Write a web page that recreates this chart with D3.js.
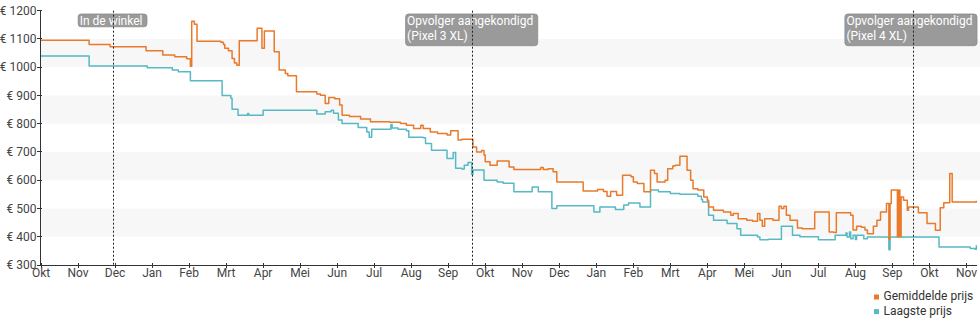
<!DOCTYPE html>
<html>
<head>
<meta charset="utf-8">
<script src="https://cdn.jsdelivr.net/npm/d3@7"></script>
<style>
  html, body { margin: 0; padding: 0; background: #fff; }
  svg { display: block; font-family: Roboto, "Noto Sans", Arial, sans-serif; }
</style>
</head>
<body>
<svg id="chart" width="980" height="325"></svg>
<script>
// Gemiddelde prijs (average price), one entry per price change
const avgPrice = [
  ["2017-10-01",1095],["2017-11-10",1080],["2017-11-27",1072],["2017-12-27",1058],
  ["2018-01-10",1043],["2018-01-20",1037],["2018-01-30",1030],["2018-02-02",1003],
  ["2018-02-03",1163],["2018-02-05",1152],["2018-02-07",1092],["2018-02-25",1088],
  ["2018-02-27",1080],["2018-02-28",1067],["2018-03-03",1058],["2018-03-06",1031],
  ["2018-03-08",1015],["2018-03-10",1007],["2018-03-12",1094],["2018-03-27",1138],
  ["2018-03-31",1067],["2018-04-02",1128],["2018-04-10",1055],["2018-04-14",990],
  ["2018-04-19",978],["2018-04-21",970],["2018-04-28",913],["2018-05-15",905],
  ["2018-05-18",901],["2018-05-22",872],["2018-05-25",893],["2018-05-30",888],
  ["2018-06-03",866],["2018-06-05",830],["2018-06-11",826],["2018-06-20",817],
  ["2018-06-28",807],["2018-07-14",805],["2018-07-23",801],["2018-07-28",795],
  ["2018-08-03",783],["2018-08-09",795],["2018-08-11",783],["2018-08-17",771],
  ["2018-08-23",765],["2018-08-31",760],["2018-09-03",775],["2018-09-09",742],
  ["2018-09-12",745],["2018-09-21",718],["2018-09-24",700],["2018-09-28",705],
  ["2018-09-30",689],["2018-10-01",665],["2018-10-05",653],["2018-10-11",668],
  ["2018-10-21",647],["2018-10-25",638],["2018-11-16",645],["2018-11-18",638],
  ["2018-11-22",641],["2018-11-26",630],["2018-11-29",594],["2018-12-21",562],
  ["2019-01-02",567],["2019-01-07",560],["2019-01-10",543],["2019-01-13",560],
  ["2019-01-18",547],["2019-01-23",618],["2019-01-30",612],["2019-02-01",594],
  ["2019-02-04",588],["2019-02-09",559],["2019-02-14",635],["2019-02-17",624],
  ["2019-02-19",594],["2019-02-25",600],["2019-02-27",641],["2019-03-03",650],
  ["2019-03-05",653],["2019-03-09",685],["2019-03-15",635],["2019-03-18",600],
  ["2019-03-20",570],["2019-03-24",565],["2019-03-29",541],["2019-04-01",529],
  ["2019-04-02",505],["2019-04-06",494],["2019-04-14",488],["2019-04-20",476],
  ["2019-04-22",482],["2019-04-26",464],["2019-05-03",458],["2019-05-08",455],
  ["2019-05-12",482],["2019-05-14",458],["2019-05-16",437],["2019-05-18",464],
  ["2019-05-25",458],["2019-05-30",508],["2019-06-01",500],["2019-06-03",508],
  ["2019-06-05",476],["2019-06-08",458],["2019-06-14",431],["2019-06-18",428],
  ["2019-06-28",488],["2019-07-10",417],["2019-07-14",415],["2019-07-16",485],
  ["2019-07-28",476],["2019-07-30",424],["2019-08-02",437],["2019-08-06",434],
  ["2019-08-09",424],["2019-08-11",411],["2019-08-16",437],["2019-08-19",458],
  ["2019-08-22",488],["2019-08-27",518],["2019-08-29",393],["2019-08-30",518],
  ["2019-08-31",565],["2019-09-05",400],["2019-09-06",565],["2019-09-07",400],
  ["2019-09-08",541],["2019-09-10",529],["2019-09-13",494],["2019-09-14",505],
  ["2019-09-22",485],["2019-09-29",447],["2019-10-06",423],["2019-10-10",503],
  ["2019-10-13",520],["2019-10-18",624],["2019-10-20",523],["2019-11-09",527]
];

// Laagste prijs (lowest price)
const lowPrice = [
  ["2017-10-01",1040],["2017-11-10",1004],["2017-12-28",998],["2018-01-18",990],
  ["2018-01-23",984],["2018-02-02",952],["2018-02-26",900],["2018-03-05",890],
  ["2018-03-06",851],["2018-03-11",830],["2018-03-19",836],["2018-03-20",830],
  ["2018-04-01",848],["2018-05-15",834],["2018-05-22",842],["2018-05-27",848],
  ["2018-05-29",837],["2018-06-02",813],["2018-06-05",801],["2018-06-18",787],
  ["2018-06-25",771],["2018-06-27",752],["2018-06-29",780],["2018-07-15",797],
  ["2018-07-16",785],["2018-07-21",780],["2018-07-28",775],["2018-07-30",752],
  ["2018-08-11",750],["2018-08-13",730],["2018-08-18",706],["2018-08-31",677],
  ["2018-09-05",698],["2018-09-07",642],["2018-09-12",640],["2018-09-14",653],
  ["2018-09-17",663],["2018-09-20",620],["2018-09-21",636],["2018-09-30",600],
  ["2018-10-11",594],["2018-10-16",589],["2018-10-25",559],["2018-11-09",576],
  ["2018-11-14",559],["2018-11-25",500],["2018-11-29",510],["2018-12-30",488],
  ["2019-01-04",505],["2019-01-17",496],["2019-01-24",512],["2019-01-28",519],
  ["2019-02-06",505],["2019-02-14",565],["2019-02-20",559],["2019-03-01",553],
  ["2019-03-09",550],["2019-03-24",543],["2019-03-27",532],["2019-03-28",523],
  ["2019-04-02",476],["2019-04-06",458],["2019-04-17",447],["2019-04-25",428],
  ["2019-04-28",405],["2019-05-12",399],["2019-05-14",389],["2019-05-21",391],
  ["2019-06-01",437],["2019-06-10",405],["2019-06-16",400],["2019-07-01",389],
  ["2019-07-15",405],["2019-07-24",413],["2019-07-25",399],["2019-07-27",417],
  ["2019-07-28",393],["2019-07-30",405],["2019-08-01",390],["2019-08-02",405],
  ["2019-08-08",393],["2019-08-11",399],["2019-08-29",354],["2019-08-30",399],
  ["2019-10-09",364],["2019-11-04",358],["2019-11-08",356],["2019-11-09",370]
];

const yTicks = [300, 400, 500, 600, 700, 800, 900, 1000, 1100, 1200];
const monthNames = ["Jan","Feb","Mrt","Apr","Mei","Jun","Jul","Aug","Sep","Okt","Nov","Dec"];
const seriesNames = ["Gemiddelde prijs", "Laagste prijs"];
const seriesColors = ["#e97a2b", "#56b9c4"];
const events = [
  { date: "2017-11-29", lines: ["In de winkel"] },
  { date: "2018-09-20", lines: ["Opvolger aangekondigd", "(Pixel 3 XL)"] },
  { date: "2019-09-18", lines: ["Opvolger aangekondigd", "(Pixel 4 XL)"] }
];
const periodStart = "2017-10-01";
const periodEnd = "2019-11-09";

const parse = d3.timeParse("%Y-%m-%d");
const start = parse(periodStart), end = parse(periodEnd);

// layout
const plotLeft = 41, plotRight = 977, plotTop = 10.7, plotBottom = 265;
const monthWidth = 37.02;

// every month gets the same width on the time axis
const monthStarts = d3.timeMonth.range(start, d3.timeMonth.offset(end, 2));
const x = d3.scaleTime()
  .domain(monthStarts)
  .range(monthStarts.map((d, i) => plotLeft + i * monthWidth));
const y = d3.scaleLinear().domain([300, 1200]).range([plotBottom, plotTop]);

const svg = d3.select("#chart");
svg.append("rect").attr("width", 980).attr("height", 325).attr("fill", "#fff");

// alternating horizontal bands
const bandStarts = yTicks.filter((v, i) => i < yTicks.length - 1 && i % 2 === 1);
svg.append("g").selectAll("rect").data(bandStarts).join("rect")
  .attr("x", plotLeft)
  .attr("y", d => y(d + 100))
  .attr("width", 980 - plotLeft)
  .attr("height", d => y(d) - y(d + 100))
  .attr("fill", "#f7f7f7");

// price lines
const line = d3.line()
  .x(d => x(parse(d[0])))
  .y(d => y(d[1]))
  .curve(d3.curveStepAfter);

svg.append("path").datum(lowPrice)
  .attr("d", line).attr("fill", "none")
  .attr("stroke", seriesColors[1]).attr("stroke-width", 1.5)
  .attr("stroke-linejoin", "round");
svg.append("path").datum(avgPrice)
  .attr("d", line).attr("fill", "none")
  .attr("stroke", seriesColors[0]).attr("stroke-width", 1.5)
  .attr("stroke-linejoin", "round");

// axes
const axisColor = "#333";
const labelColor = "#444";
const axes = svg.append("g").attr("shape-rendering", "crispEdges");
axes.append("line")
  .attr("x1", plotLeft - 0.5).attr("x2", plotLeft - 0.5)
  .attr("y1", plotTop).attr("y2", plotBottom)
  .attr("stroke", axisColor);
axes.append("line")
  .attr("x1", plotLeft - 0.5).attr("x2", plotRight)
  .attr("y1", plotBottom + 0.5).attr("y2", plotBottom + 0.5)
  .attr("stroke", axisColor);

// y ticks and labels
const yt = svg.append("g").selectAll("g").data(yTicks).join("g")
  .attr("transform", d => `translate(0,${y(d)})`);
yt.append("line").attr("x1", plotLeft - 4).attr("x2", plotLeft + 1)
  .attr("stroke", axisColor).attr("shape-rendering", "crispEdges");
yt.append("text")
  .attr("x", plotLeft - 4.5).attr("dy", "0.35em")
  .attr("text-anchor", "end")
  .attr("font-size", 12).attr("fill", labelColor)
  .text(d => "€ " + d);

// x ticks and labels
const monthTicks = d3.timeMonth.range(start, end);
const xt = svg.append("g").selectAll("g").data(monthTicks).join("g")
  .attr("transform", d => `translate(${x(d)},0)`);
xt.append("line").attr("y1", plotBottom - 2.5).attr("y2", plotBottom + 3)
  .attr("stroke", axisColor).attr("shape-rendering", "crispEdges");
xt.append("text")
  .attr("y", plotBottom + 12.3)
  .attr("text-anchor", "middle")
  .attr("font-size", 12).attr("fill", labelColor)
  .text(d => monthNames[d.getMonth()]);

// event markers with their labels
const ev = svg.append("g").selectAll("g").data(events).join("g");
ev.each(function(e) {
  const g = d3.select(this);
  const lx = x(parse(e.date));
  const box = g.append("rect");
  const texts = g.selectAll("text").data(e.lines).join("text")
    .attr("font-size", 12).attr("fill", "#fff")
    .attr("y", (d, i) => 24.5 + i * 15.3)
    .text(d => d);
  let w = 0;
  texts.each(function() { w = Math.max(w, this.getComputedTextLength()); });
  const bw = w + 6;
  let bx = lx - bw / 2;
  if (bx + bw > plotRight) bx = plotRight - bw;
  const bh = e.lines.length === 1 ? 12.8 : 31.7;
  box.attr("x", bx).attr("y", 14).attr("width", bw).attr("height", bh)
    .attr("rx", 3).attr("fill", "#9a9a9a").attr("stroke", "#8a8a8a").attr("stroke-width", 0.8);
  texts.attr("x", bx + 1.5);
  g.append("line")
    .attr("x1", Math.round(lx) + 0.5).attr("x2", Math.round(lx) + 0.5)
    .attr("y1", plotTop).attr("y2", plotBottom)
    .attr("stroke", "#222").attr("stroke-width", 1)
    .attr("stroke-dasharray", "2,2");
});

// legend
const lg = svg.append("g").selectAll("g").data(seriesNames).join("g")
  .attr("transform", (d, i) => `translate(874,${294.5 + i * 14.6})`);
lg.append("rect").attr("width", 5).attr("height", 5)
  .attr("fill", (d, i) => seriesColors[i]);
lg.append("text").attr("x", 9.5).attr("y", 5.5)
  .attr("font-size", 12).attr("fill", "#333")
  .text(d => d);
</script>
</body>
</html>
